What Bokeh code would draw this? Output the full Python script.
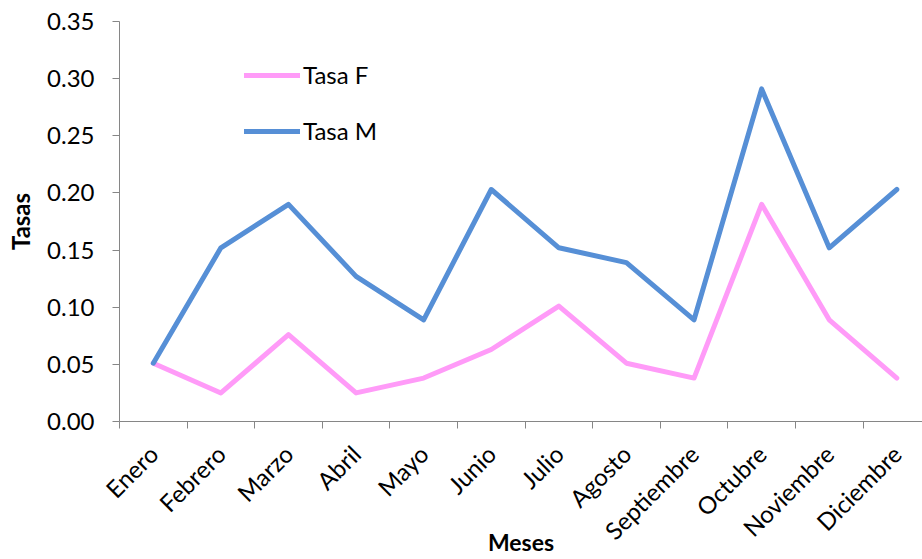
import math
from bokeh.plotting import figure
from bokeh.models import Range1d, FixedTicker, Legend, LegendItem, NumeralTickFormatter
from bokeh.embed import file_html
from bokeh.resources import INLINE

months = ["Enero", "Febrero", "Marzo", "Abril", "Mayo", "Junio", "Julio",
          "Agosto", "Septiembre", "Octubre", "Noviembre", "Diciembre"]
tasa_f = [0.051, 0.025, 0.076, 0.025, 0.038, 0.063, 0.101, 0.051, 0.038, 0.190, 0.089, 0.038]
tasa_m = [0.051, 0.152, 0.190, 0.127, 0.089, 0.203, 0.152, 0.139, 0.089, 0.291, 0.152, 0.203]
y_ticks = [0.00, 0.05, 0.10, 0.15, 0.20, 0.25, 0.30, 0.35]

FONT = "Lato"
AXIS_GRAY = "#868686"

x = [i + 0.5 for i in range(len(months))]
boundaries = list(range(len(months) + 1))

p = figure(width=922, height=559, output_backend="svg", toolbar_location=None,
           x_range=Range1d(0, 11.88), y_range=Range1d(0, 0.35),
           min_border_left=119, min_border_right=0, min_border_top=21,
           min_border_bottom=138)
p.outline_line_color = None
p.xgrid.visible = False
p.ygrid.visible = False
p.background_fill_color = "white"
p.border_fill_color = "white"

rf = p.line(x, tasa_f, line_color="#FF9BF8", line_width=5, line_join="round", line_cap="round")
rm = p.line(x, tasa_m, line_color="#568FD6", line_width=5, line_join="round", line_cap="round")

# Y axis
ya = p.yaxis[0]
ya.ticker = FixedTicker(ticks=y_ticks, minor_ticks=[])
ya.formatter = NumeralTickFormatter(format="0.00")
ya.axis_line_color = AXIS_GRAY
ya.major_tick_line_color = AXIS_GRAY
ya.major_tick_out = 7
ya.major_tick_in = 0
ya.minor_tick_out = 0
ya.minor_tick_in = 0
ya.major_label_standoff = 18
ya.major_label_text_font = FONT
ya.major_label_text_font_size = "24px"
ya.major_label_text_color = "black"
ya.axis_label = "Tasas"
ya.axis_label_text_font = FONT
ya.axis_label_text_font_size = "24px"
ya.axis_label_text_font_style = "bold"
ya.axis_label_text_color = "black"
ya.axis_label_standoff = 9

# X axis
xa = p.xaxis[0]
xa.ticker = FixedTicker(ticks=x, minor_ticks=boundaries)
xa.major_label_overrides = {xi: m for xi, m in zip(x, months)}
xa.axis_line_color = AXIS_GRAY
xa.major_tick_out = 0
xa.major_tick_in = 0
xa.minor_tick_line_color = AXIS_GRAY
xa.minor_tick_out = 7
xa.minor_tick_in = 0
xa.major_label_orientation = math.pi / 4
xa.major_label_standoff = 21
xa.major_label_text_font = FONT
xa.major_label_text_font_size = "24px"
xa.major_label_text_color = "black"
xa.axis_label = "Meses"
xa.axis_label_text_font = FONT
xa.axis_label_text_font_size = "23px"
xa.axis_label_text_font_style = "bold"
xa.axis_label_text_color = "black"
xa.axis_label_standoff = -30

legend = Legend(items=[LegendItem(label="Tasa F", renderers=[rf]),
                       LegendItem(label="Tasa M", renderers=[rm])],
                location=(125, 276), orientation="vertical")
legend.glyph_width = 56
legend.glyph_height = 20
legend.label_height = 20
legend.spacing = 27
legend.label_standoff = 3
legend.padding = 0
legend.margin = 0
legend.background_fill_alpha = 0
legend.border_line_color = None
legend.label_text_font = FONT
legend.label_text_font_size = "24px"
legend.label_text_color = "black"
p.add_layout(legend)

open("out.html", "w").write(file_html(p, INLINE))
